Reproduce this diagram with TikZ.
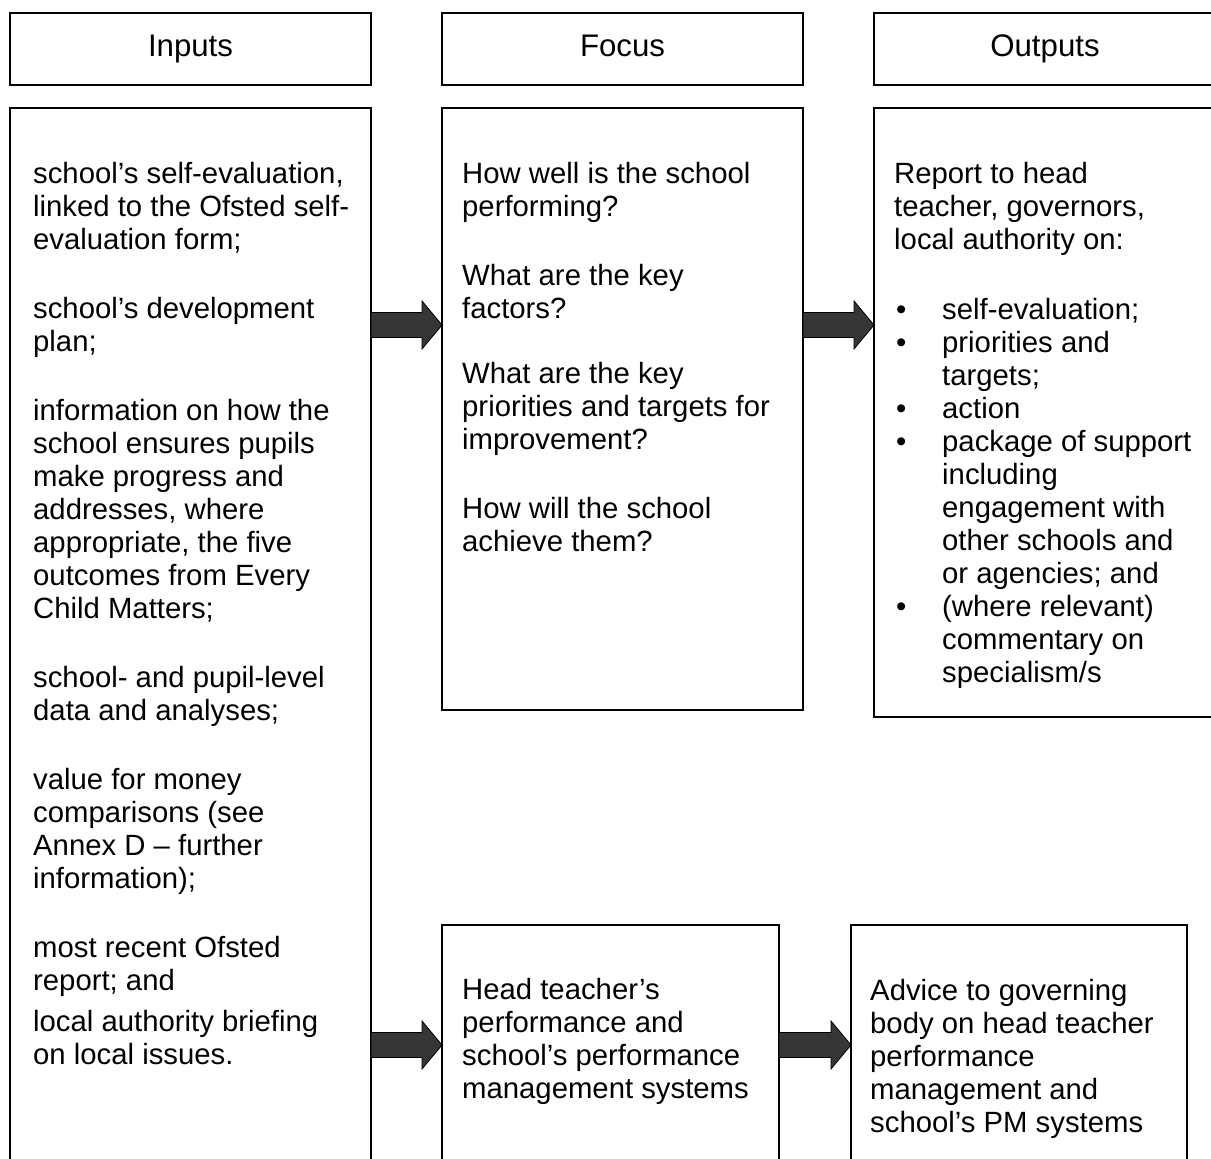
\documentclass[tikz,border=0pt]{standalone}
\usepackage{fontspec}
\setmainfont{Liberation Sans}
\usepackage{xcolor}
\usetikzlibrary{calc,positioning}
\definecolor{arrowgrey}{RGB}{54,54,54}
\newcommand{\bodyfont}{\fontsize{29.3}{33}\selectfont}
\newcommand{\headfont}{\fontsize{31.2}{35}\selectfont}
\tikzset{
  headbox/.style={draw,line width=1.3pt,minimum width=361pt,minimum height=72pt,
    inner sep=0pt,outer sep=0pt,text height=22pt,text depth=8pt,font=\headfont},
  bodybox/.style={draw,line width=1.3pt,minimum width=361pt,inner sep=0pt,
    outer sep=0pt},
  boxtext/.style={inner sep=0pt,align=left,font=\bodyfont},
  blockarrow/.style={draw=black,line width=0.8pt,fill=arrowgrey,line join=miter}
}
\newcommand{\bul}{\makebox[48pt][l]{\hspace{2pt}\textbullet}}
\newcommand{\ind}{\hspace*{48pt}}
\newcommand{\blockarrow}[3]{%
  \coordinate (arrowlevel) at (0,#3);
  \coordinate (arrowtail) at (#1.east |- arrowlevel);
  \coordinate (arrowtip) at (#2.west |- arrowlevel);
  \draw[blockarrow] ($(arrowtail)+(0,-12.5)$) -- ($(arrowtip)+(-20,-12.5)$)
    -- ($(arrowtip)+(-20,-24)$) -- (arrowtip) -- ($(arrowtip)+(-20,24)$)
    -- ($(arrowtip)+(-20,12.5)$) -- ($(arrowtail)+(0,12.5)$) -- cycle;}

\begin{document}
\begin{tikzpicture}[x=1pt,y=-1pt]
  \clip (0,0) rectangle (1211,1159);
  \node[headbox,anchor=north west] (inhead) at (10,13) {Inputs};
  \node[headbox,right=71pt of inhead] (focushead) {Focus};
  \node[headbox,minimum width=342pt,right=71pt of focushead] (outhead) {Outputs};
  \node[bodybox,minimum height=1100pt,below=23pt of inhead] (inbody) {};
  \node[bodybox,minimum height=602pt,below=23pt of focushead] (focusbody) {};
  \node[bodybox,minimum width=342pt,minimum height=609pt,below=23pt of outhead]
    (outbody) {};
  \node[bodybox,minimum width=337pt,minimum height=300pt,
    below=215pt of focusbody.south west,anchor=north west] (focuspm) {};
  \node[bodybox,minimum width=336pt,minimum height=300pt,right=72pt of focuspm]
    (advicepm) {};
  \node[boxtext,below right=54pt and 23pt of inbody.north west] (intext)
    {school’s self-evaluation,\\ linked to the Ofsted self-\\ evaluation form;\\[36pt]
     school’s development\\ plan;\\[36pt]
     information on how the\\ school ensures pupils\\ make progress and\\
     addresses, where\\ appropriate, the five\\ outcomes from Every\\
     Child Matters;\\[36pt]
     school- and pupil-level\\ data and analyses;\\[36pt]
     value for money\\ comparisons (see\\ Annex D – further\\ information);\\[36pt]
     most recent Ofsted\\ report; and\\[8pt]
     local authority briefing\\ on local issues.};
  \node[boxtext,below right=54pt and 20pt of focusbody.north west] (focustext)
    {How well is the school\\ performing?\\[36pt]
     What are the key\\ factors?\\[32pt]
     What are the key\\ priorities and targets for\\ improvement?\\[36pt]
     How will the school\\ achieve them?};
  \node[boxtext,below right=54pt and 20pt of outbody.north west] (outtext)
    {Report to head\\ teacher, governors,\\ local authority on:\\[37pt]
     \bul self-evaluation;\\ \bul priorities and\\ \ind targets;\\ \bul action\\
     \bul package of support\\ \ind including\\ \ind engagement with\\
     \ind other schools and\\ \ind or agencies; and\\ \bul (where relevant)\\
     \ind commentary on\\ \ind specialism/s};
  \node[boxtext,below right=53pt and 20pt of focuspm.north west] (focuspmtext)
    {Head teacher’s\\ performance and\\ school’s performance\\ management systems};
  \node[boxtext,below right=54pt and 19pt of advicepm.north west] (advicepmtext)
    {Advice to governing\\ body on head teacher\\ performance\\ management and\\
     school’s PM systems};
  \blockarrow{inbody}{focusbody}{325}
  \blockarrow{focusbody}{outbody}{325}
  \blockarrow{inbody}{focuspm}{1045}
  \blockarrow{focuspm}{advicepm}{1045}
\end{tikzpicture}
\end{document}
